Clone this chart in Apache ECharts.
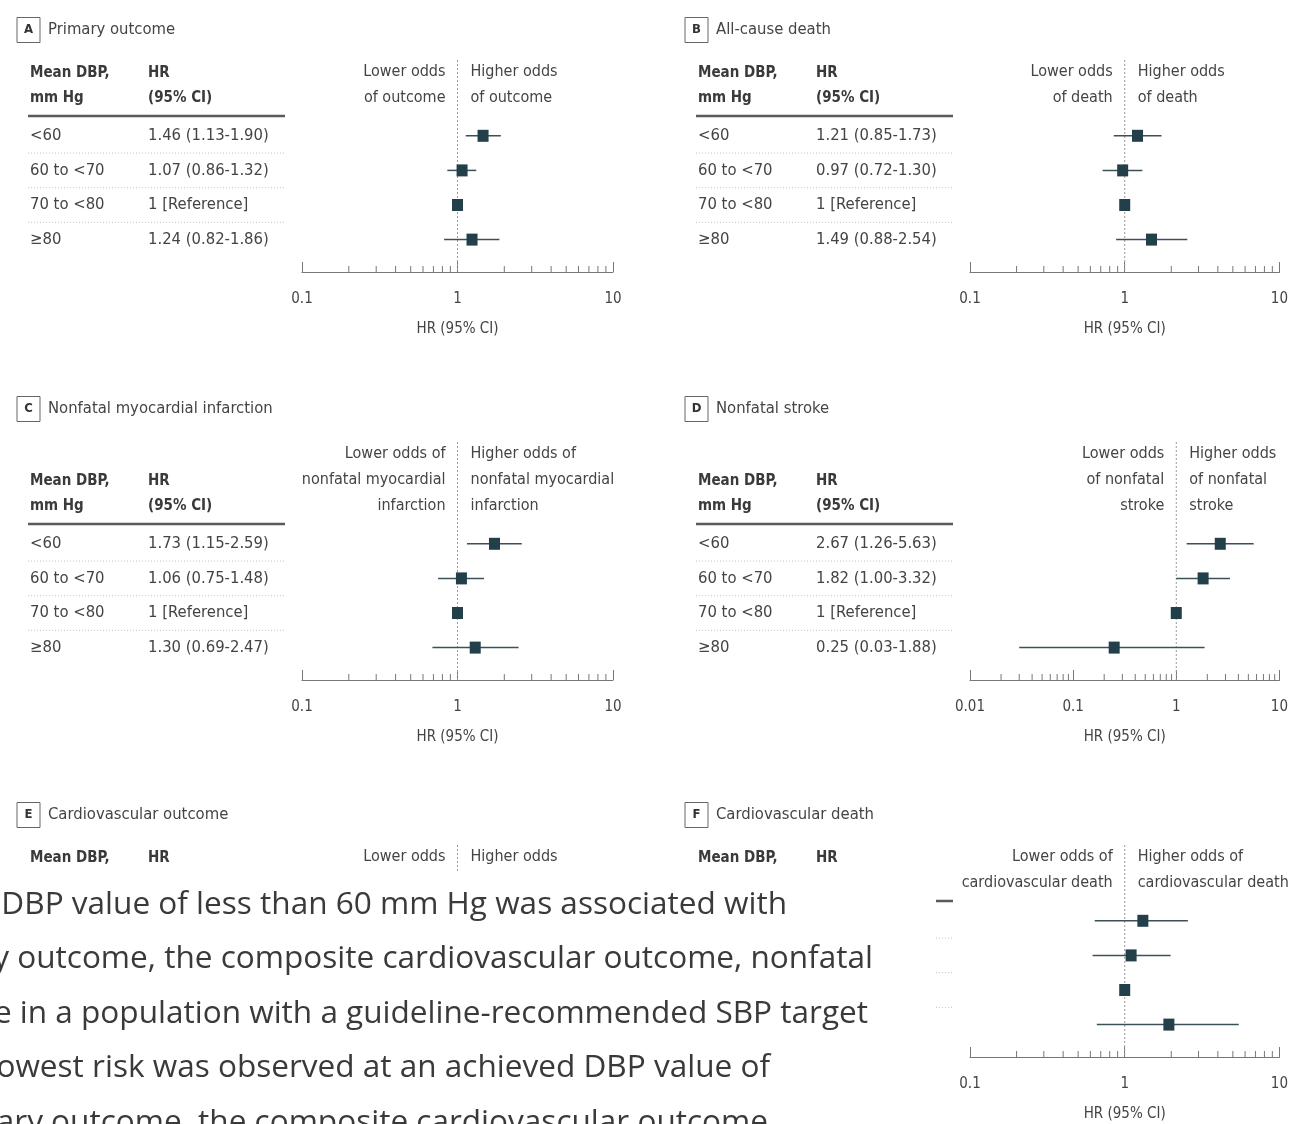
<!DOCTYPE html>
<html><head><meta charset="utf-8">
<script src="https://cdn.jsdelivr.net/npm/echarts@6/dist/echarts.min.js"></script>
<style>html,body{margin:0;padding:0;background:#fff}#c{width:1291px;height:1124px}</style>
</head><body><div id="c"></div>
<script>
// ---------------- DATA ----------------
const dbpCategories = ['<60', '60 to <70', '70 to <80', '≥80'];

const primaryHR   = [1.46, 1.07, 1, 1.24];
const primaryLow  = [1.13, 0.86, null, 0.82];
const primaryHigh = [1.90, 1.32, null, 1.86];

const deathHR   = [1.21, 0.97, 1, 1.49];
const deathLow  = [0.85, 0.72, null, 0.88];
const deathHigh = [1.73, 1.30, null, 2.54];

const miHR   = [1.73, 1.06, 1, 1.30];
const miLow  = [1.15, 0.75, null, 0.69];
const miHigh = [2.59, 1.48, null, 2.47];

const strokeHR   = [2.67, 1.82, 1, 0.25];
const strokeLow  = [1.26, 1.00, null, 0.03];
const strokeHigh = [5.63, 3.32, null, 1.88];

// panel E is hidden under the overlaid text in the reference
const cvOutcomeHR = [];
const cvOutcomeLow = [];
const cvOutcomeHigh = [];

const cvDeathHR   = [1.31, 1.10, 1, 1.93];
const cvDeathLow  = [0.64, 0.62, null, 0.66];
const cvDeathHigh = [2.56, 1.98, null, 5.46];

const axisTicks = [0.1, 1, 10];
const strokeAxisTicks = [0.01, 0.1, 1, 10];
const minorTickMultiples = [2, 3, 4, 5, 6, 7, 8, 9];

const overlayLines = [
  'DBP value of less than 60 mm Hg was associated with',
  'y outcome, the composite cardiovascular outcome, nonfatal',
  'e in a population with a guideline-recommended SBP target',
  'owest risk was observed at an achieved DBP value of',
  'ary outcome, the composite cardiovascular outcome'
];

// ---------------- LAYOUT ----------------
const FONT = "'DejaVu Sans Condensed', 'DejaVu Sans', sans-serif";
const TXT = '#444';
const L = { plotLeft: 302, plotWidth: 311, tableLeft: 28, tableRight: 285, col1: 30, col2: 148,
  rule: 116, top: 118.5, rowH: 34.6, axisY: 272, headY1: 73, headY2: 98, oddsLH: 26 };

const panels = [
  {letter:'A', title:'Primary outcome', ox:0, titleY:30, dy:0, hr:primaryHR, lo:primaryLow, hi:primaryHigh, ticks:axisTicks,
   lower:['Lower odds','of outcome'], higher:['Higher odds','of outcome']},
  {letter:'B', title:'All-cause death', ox:668, titleY:30, dy:0, hr:deathHR, lo:deathLow, hi:deathHigh, ticks:axisTicks,
   lower:['Lower odds','of death'], higher:['Higher odds','of death']},
  {letter:'C', title:'Nonfatal myocardial infarction', ox:0, titleY:409, dy:408, hr:miHR, lo:miLow, hi:miHigh, ticks:axisTicks,
   lower:['Lower odds of','nonfatal myocardial','infarction'], higher:['Higher odds of','nonfatal myocardial','infarction']},
  {letter:'D', title:'Nonfatal stroke', ox:668, titleY:409, dy:408, hr:strokeHR, lo:strokeLow, hi:strokeHigh, ticks:strokeAxisTicks,
   lower:['Lower odds','of nonfatal','stroke'], higher:['Higher odds','of nonfatal','stroke']},
  {letter:'E', title:'Cardiovascular outcome', ox:0, titleY:815, dy:785, hr:cvOutcomeHR, lo:cvOutcomeLow, hi:cvOutcomeHigh, ticks:axisTicks,
   lower:['Lower odds','of outcome'], higher:['Higher odds','of outcome'], hideTable:true},
  {letter:'F', title:'Cardiovascular death', ox:668, titleY:815, dy:785, hr:cvDeathHR, lo:cvDeathLow, hi:cvDeathHigh, ticks:axisTicks,
   lower:['Lower odds of','cardiovascular death'], higher:['Higher odds of','cardiovascular death']}
];

function hrText(p, i) {
  if (p.lo[i] == null) return '1 [Reference]';
  return p.hr[i].toFixed(2) + ' (' + p.lo[i].toFixed(2) + '-' + p.hi[i].toFixed(2) + ')';
}

const chart = echarts.init(document.getElementById('c'), null, {renderer: 'canvas'});

const grid = [], xAxis = [], yAxis = [], series = [];
panels.forEach((p, i) => {
  const gh = 4 * L.rowH;
  grid.push({left: p.ox + L.plotLeft, top: p.dy + L.top, width: L.plotWidth, height: gh});
  xAxis.push({
    type: 'log', logBase: 10, gridIndex: i, min: p.ticks[0], max: p.ticks[p.ticks.length - 1],
    offset: L.axisY - L.top - gh,
    axisLine: {show: true, onZero: false, lineStyle: {color: '#777', width: 1.2}},
    axisTick: {show: true, inside: true, length: 10, lineStyle: {color: '#777', width: 1}},
    splitLine: {show: false},
    axisLabel: {color: TXT, fontSize: 15, fontFamily: FONT, margin: 20,
      formatter: v => { const t = p.ticks.find(t => Math.abs(Math.log10(t) - Math.log10(v)) < 1e-6); return t == null ? '' : String(t); }},
    name: 'HR (95% CI)', nameLocation: 'middle', nameGap: 50,
    nameTextStyle: {color: TXT, fontSize: 15, fontFamily: FONT}
  });
  yAxis.push({
    type: 'category', data: dbpCategories, inverse: true, gridIndex: i,
    axisLine: {show: false}, axisTick: {show: false}, splitLine: {show: false},
    axisLabel: {show: !p.hideTable, interval: 0, align: 'left', margin: L.plotLeft - L.col1,
      formatter: (v, idx) => '{a|' + v + '}{b|' + hrText(p, idx) + '}',
      rich: {a: {width: L.col2 - L.col1, fontSize: 16.5, color: TXT, fontFamily: FONT},
             b: {fontSize: 16.5, color: TXT, fontFamily: FONT}}}
  });
  const data = p.hr.map((h, r) => [r, h, p.lo[r] == null ? '-' : p.lo[r], p.hi[r] == null ? '-' : p.hi[r]]);
  series.push({
    type: 'custom', xAxisIndex: i, yAxisIndex: i, data: data, encode: {x: [1, 2, 3], y: 0},
    silent: true, animation: false, z: 5,
    renderItem: (params, api) => {
      const row = api.value(0), h = api.value(1), lo = api.value(2), hi = api.value(3);
      const c = api.coord([h, row]);
      const children = [];
      if (isFinite(lo) && isFinite(hi)) {
        const a = api.coord([lo, row]), b = api.coord([hi, row]);
        children.push({type: 'line', shape: {x1: a[0], y1: c[1], x2: b[0], y2: c[1]},
          style: {stroke: '#3c5058', lineWidth: 1.5}});
      }
      children.push({type: 'rect', shape: {x: c[0] - 5.5, y: c[1] - 6, width: 11, height: 12},
        style: {fill: '#23404a'}});
      return {type: 'group', children: children};
    }
  });
});

chart.setOption({animation: false, backgroundColor: '#fff', grid, xAxis, yAxis, series});

// ---------------- GRAPHICS (text, rules, reference lines, minor ticks) ----------------
const g = [];
function txt(x, y, s, o) {
  g.push(Object.assign({type: 'text', x: x, y: y, z: 10,
    style: Object.assign({text: s, fill: TXT, fontSize: 16, fontFamily: FONT, align: 'left', verticalAlign: 'middle'}, o || {})}));
}
panels.forEach((p, i) => {
  // letter box + title
  g.push({type: 'rect', z: 10, shape: {x: p.ox + 17, y: p.titleY - 12.5, width: 23, height: 25},
    style: {fill: '#fff', stroke: '#666', lineWidth: 1}});
  txt(p.ox + 28.5, p.titleY, p.letter, {align: 'center', fontWeight: 'bold', fontSize: 13, fill: '#333'});
  txt(p.ox + 48, p.titleY, p.title, {fontSize: 16.5});
  // table headers
  const hb = {fontWeight: 'bold', fill: '#3a3a3a', fontSize: 15};
  txt(p.ox + L.col1, p.dy + L.headY1, 'Mean DBP,', hb);
  txt(p.ox + L.col1, p.dy + L.headY2, 'mm Hg', hb);
  txt(p.ox + L.col2, p.dy + L.headY1, 'HR', hb);
  txt(p.ox + L.col2, p.dy + L.headY2, '(95% CI)', hb);
  // header rule and row separators
  const ruleY = p.dy + L.rule;
  g.push({type: 'line', z: 10, shape: {x1: p.ox + L.tableLeft, y1: ruleY, x2: p.ox + L.tableRight, y2: ruleY},
    style: {stroke: '#5a5a5a', lineWidth: 2.5}});
  if (!p.hideTable) {
    for (let k = 1; k < dbpCategories.length; k++) {
      const y = (chart.convertToPixel({yAxisIndex: i}, k - 1) + chart.convertToPixel({yAxisIndex: i}, k)) / 2;
      g.push({type: 'line', z: 10, shape: {x1: p.ox + L.tableLeft, y1: y, x2: p.ox + L.tableRight, y2: y},
        style: {stroke: '#c4c4c4', lineWidth: 1, lineDash: [1, 2]}});
    }
  }
  // reference line at HR = 1
  const refX = chart.convertToPixel({xAxisIndex: i}, 1);
  const axisY = p.dy + L.axisY;
  const n = p.lower.length;
  g.push({type: 'line', z: 1, shape: {x1: refX, y1: p.dy + L.headY2 - (n - 1) * L.oddsLH - 12, x2: refX, y2: axisY},
    style: {stroke: '#9a9a9a', lineWidth: 1, lineDash: [2, 2]}});
  p.lower.forEach((s, k) => txt(refX - 12, p.dy + L.headY2 - (n - 1 - k) * L.oddsLH, s, {align: 'right'}));
  p.higher.forEach((s, k) => txt(refX + 13, p.dy + L.headY2 - (n - 1 - k) * L.oddsLH, s, {align: 'left'}));
  // minor ticks
  for (let d = 0; d < p.ticks.length - 1; d++) {
    minorTickMultiples.forEach(m => {
      const x = chart.convertToPixel({xAxisIndex: i}, m * p.ticks[d]);
      g.push({type: 'line', z: 3, shape: {x1: x, y1: axisY, x2: x, y2: axisY - 6},
        style: {stroke: '#777', lineWidth: 1}});
    });
  }
});

// overlaid article text covering the lower-left part
g.push({type: 'rect', z: 100, shape: {x: 0, y: 872, width: 936, height: 252}, style: {fill: '#fff'}});
const ctx = document.createElement('canvas').getContext('2d');
const candidates = ["'Open Sans'", 'Lato', "'Noto Sans'"];
let best = candidates[0], bestSize = 32, bestErr = 1e9;
candidates.forEach(f => {
  ctx.font = '32px ' + f;
  const w = ctx.measureText(overlayLines[0]).width;
  const size = 32 * 786 / w;
  if (Math.abs(size - 32) < bestErr) { bestErr = Math.abs(size - 32); best = f; bestSize = size; }
});
const overlayRight = [787, 873, 868, 770, 768];
overlayLines.forEach((s, k) => {
  g.push({type: 'text', z: 101, x: overlayRight[k], y: 915 + k * 54.5 - 26,
    style: {text: s, fill: '#3a3a3a', fontSize: bestSize, fontFamily: best, align: 'right', verticalAlign: 'top'}});
});

chart.setOption({graphic: g});
</script></body></html>
